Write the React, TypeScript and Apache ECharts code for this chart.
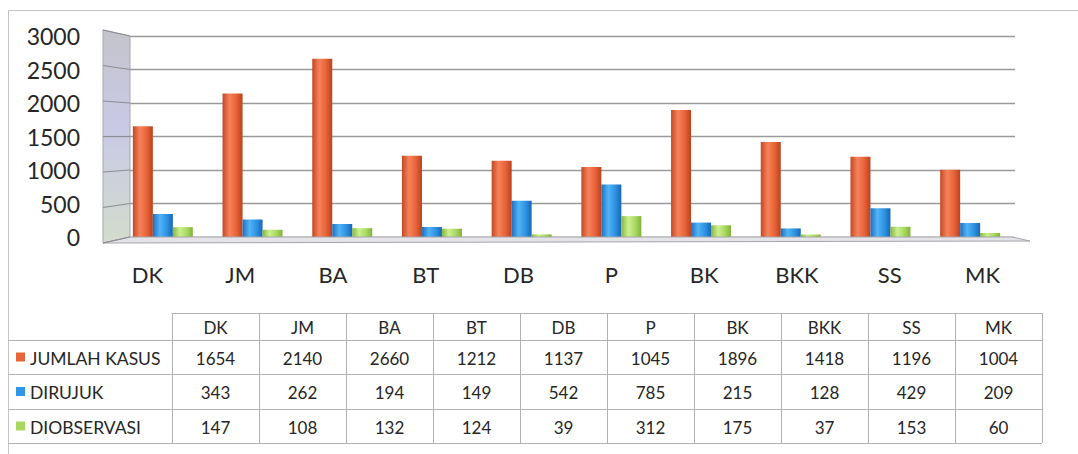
import React, { useEffect, useRef } from "react";
import * as echarts from "echarts";

const categories = ["DK", "JM", "BA", "BT", "DB", "P", "BK", "BKK", "SS", "MK"];
const jumlahKasus = [1654, 2140, 2660, 1212, 1137, 1045, 1896, 1418, 1196, 1004];
const dirujuk = [343, 262, 194, 149, 542, 785, 215, 128, 429, 209];
const diobservasi = [147, 108, 132, 124, 39, 312, 175, 37, 153, 60];
const seriesNames = ["JUMLAH KASUS", "DIRUJUK", "DIOBSERVASI"];
const yMin = 0;
const yMax = 3000;
const yStep = 500;

const FONT = 'Lato, "Open Sans", "Noto Sans", sans-serif';
const seriesColors = ["#e8643a", "#2f97e6", "#a8d862"];

function grad(c0: string, c1: string, c2: string, c3: string) {
  return new echarts.graphic.LinearGradient(0, 0, 1, 0, [
    { offset: 0, color: c0 },
    { offset: 0.35, color: c1 },
    { offset: 0.7, color: c2 },
    { offset: 1, color: c3 },
  ]);
}

export default function App() {
  const ref = useRef<HTMLDivElement>(null);

  useEffect(() => {
    document.body.style.margin = "0";
    if (!ref.current) return;
    const chart = echarts.init(ref.current, undefined, { renderer: "svg" });
    const allSeries = [jumlahKasus, dirujuk, diobservasi];
    const fills = [
      grad("#c34824", "#f6825a", "#e86238", "#b8421e"),
      grad("#1d70c0", "#52b4f6", "#2c92e2", "#1a66b4"),
      grad("#86b840", "#cdf08e", "#a8d862", "#82b23c"),
    ];
    chart.setOption({
      animation: false,
      backgroundColor: "#ffffff",
      grid: [
        { left: 118, right: 63, top: 36, bottom: 217 },
        { left: 101, right: 49, top: 36, bottom: 217 },
      ],
      xAxis: [
        {
          type: "category",
          gridIndex: 0,
          data: categories,
          axisLine: { show: false },
          axisTick: { show: false },
          axisLabel: { show: false },
        },
        {
          type: "category",
          gridIndex: 1,
          data: categories,
          axisLine: { show: false },
          axisTick: { show: false },
          axisLabel: {
            show: true,
            margin: 26,
            fontFamily: FONT,
            fontSize: 22,
            color: "#262626",
          },
        },
      ],
      yAxis: [
        {
          type: "value",
          gridIndex: 0,
          min: yMin,
          max: yMax,
          interval: yStep,
          axisLine: { show: false },
          axisTick: { show: false },
          axisLabel: {
            margin: 38,
            fontFamily: FONT,
            fontSize: 23,
            color: "#262626",
            formatter: (v: number) => String(v),
          },
          splitLine: { lineStyle: { color: "#9a9a9a", width: 1.3 } },
        },
        { type: "value", gridIndex: 1, min: yMin, max: yMax, show: false },
      ],
      series: allSeries.map((data, i) => ({
        type: "bar",
        name: seriesNames[i],
        xAxisIndex: 0,
        yAxisIndex: 0,
        data,
        barWidth: 20,
        barGap: "0%",
        barCategoryGap: "33%",
        itemStyle: { color: fills[i] },
      })),
    });

    const y0 = chart.convertToPixel({ gridIndex: 0 }, [0, yMin])[1] as number;
    const yTop = chart.convertToPixel({ gridIndex: 0 }, [0, yMax])[1] as number;
    const wallL = 103;
    const wallR = 130;
    const graphics: any[] = [];

    // outer border
    graphics.push({
      type: "rect",
      shape: { x: 8.5, y: 10.5, width: 1100, height: 500 },
      style: { fill: "none", stroke: "#c4c4c4", lineWidth: 1 },
      silent: true,
      z: 1,
    });

    // back wall
    graphics.push({
      type: "polygon",
      shape: {
        points: [
          [wallL, yTop - 6],
          [wallR, yTop],
          [wallR, y0],
          [wallL, y0 + 6],
        ],
      },
      style: {
        fill: new echarts.graphic.LinearGradient(0, 0, 0, 1, [
          { offset: 0, color: "#c4c4cc" },
          { offset: 0.45, color: "#c9c9e6" },
          { offset: 1, color: "#d3dccc" },
        ]),
        stroke: "#a8a8b0",
        lineWidth: 1,
      },
      z: 100,
    });
    for (let v = yMin; v <= yMax; v += yStep) {
      const yi = chart.convertToPixel({ gridIndex: 0 }, [0, v])[1] as number;
      const yl = y0 + 6 - ((v - yMin) / (yMax - yMin)) * (y0 - yTop + 12);
      graphics.push({
        type: "line",
        shape: { x1: wallL, y1: yl, x2: wallR, y2: yi },
        style: { stroke: "#8c8c94", lineWidth: 1.2 },
        z: 101,
      });
    }
    // floor
    graphics.push({
      type: "polygon",
      shape: {
        points: [
          [wallR, y0],
          [1012, y0],
          [1030, y0 + 4],
          [wallL, y0 + 6],
        ],
      },
      style: { fill: "#e4e4e8", stroke: "#a4a4aa", lineWidth: 1 },
      z: 100,
    });

    // data table
    const tLeft = 8;
    const tCol0 = 172;
    const colW = 87;
    const rows = [313, 340, 374, 409, 443];
    const tRight = tCol0 + colW * categories.length;
    const lineStyle = { stroke: "#b2b2b2", lineWidth: 1 };
    const tFont = `17px ${FONT}`;
    const tColor = "#262626";
    rows.forEach((ry, i) => {
      graphics.push({
        type: "line",
        shape: { x1: i === 0 ? tCol0 : tLeft, y1: ry + 0.5, x2: tRight, y2: ry + 0.5 },
        style: lineStyle,
        z: 5,
      });
    });
    for (let c = 0; c <= categories.length; c++) {
      const x = tCol0 + c * colW + 0.5;
      graphics.push({
        type: "line",
        shape: { x1: x, y1: rows[0], x2: x, y2: rows[rows.length - 1] },
        style: lineStyle,
        z: 5,
      });
    }
    const hy = (rows[0] + rows[1]) / 2;
    categories.forEach((cat, c) => {
      graphics.push({
        type: "text",
        x: tCol0 + c * colW + colW / 2,
        y: hy + 1,
        style: {
          text: cat,
          fill: tColor,
          font: tFont,
          align: "center",
          verticalAlign: "middle",
          textAlign: "center",
          textVerticalAlign: "middle",
        },
        z: 6,
      });
    });
    allSeries.forEach((data, r) => {
      const cy = (rows[r + 1] + rows[r + 2]) / 2;
      graphics.push({
        type: "rect",
        shape: { x: 16, y: cy - 4.5, width: 9, height: 9 },
        style: { fill: seriesColors[r] },
        z: 6,
      });
      graphics.push({
        type: "text",
        x: 30,
        y: cy + 1,
        style: {
          text: seriesNames[r],
          fill: tColor,
          font: `17.5px ${FONT}`,
          align: "left",
          verticalAlign: "middle",
          textAlign: "left",
          textVerticalAlign: "middle",
        },
        z: 6,
      });
      data.forEach((val, c) => {
        graphics.push({
          type: "text",
          x: tCol0 + c * colW + colW / 2,
          y: cy + 1,
          style: {
            text: String(val),
            fill: tColor,
            font: tFont,
            align: "center",
            verticalAlign: "middle",
            textAlign: "center",
            textVerticalAlign: "middle",
          },
          z: 6,
        });
      });
    });

    chart.setOption({ graphic: { elements: graphics } });

    return () => {
      chart.dispose();
    };
  }, []);

  return <div ref={ref} style={{ width: 1078, height: 454 }} />;
}
